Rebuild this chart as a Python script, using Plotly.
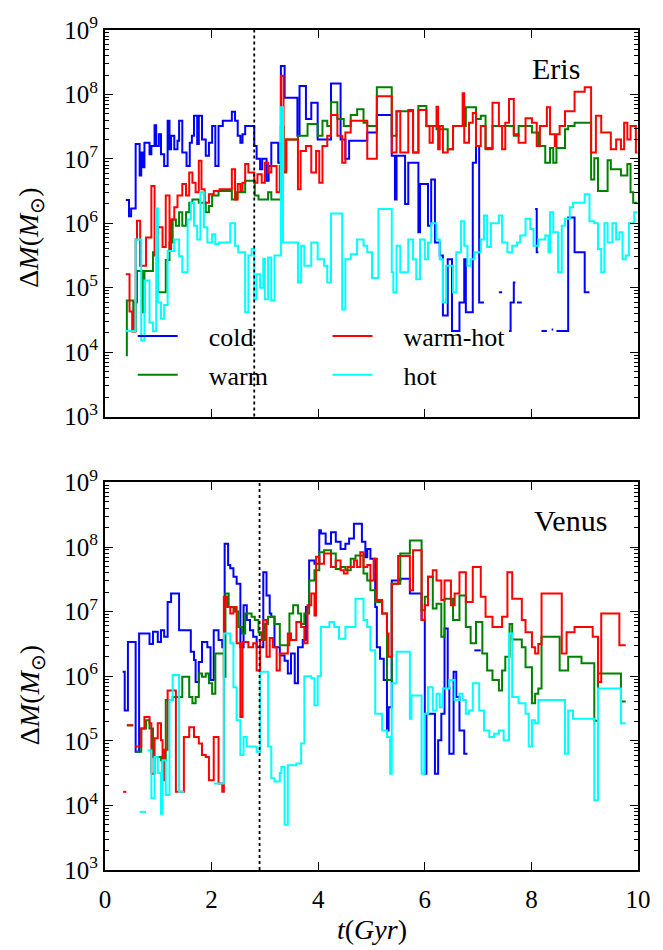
import plotly.graph_objects as go

# ---- Eris: interval edges (Gyr) and log10 of accreted mass per interval ----
eris_cold_t = [0.39, 0.45, 0.49, 0.575, 0.65, 0.68, 0.71, 0.74, 0.835, 0.87,
               0.93, 0.96, 1.01, 1.05, 1.11, 1.175, 1.21, 1.24, 1.30, 1.36,
               1.39, 1.45, 1.53, 1.59, 1.63, 1.67, 1.73, 1.76, 1.82, 1.89,
               1.95, 2.01, 2.07, 2.13, 2.21, 2.38, 2.44, 2.49, 2.54, 2.58,
               2.63, 2.80, 2.845, 2.91, 2.95, 3.03, 3.07, 3.12, 3.25, 3.30,
               3.37, 3.61, 3.65, 3.77, 3.87, 3.99, 4.24, 4.42, 4.51, 4.58,
               4.92, 5.10, 5.38, 5.44, 5.47, 5.63, 5.69, 5.88, 5.91, 6.06,
               6.12, 6.19, 6.28, 6.34, 6.43, 6.51, 6.65, 6.74, 6.77, 6.90,
               6.96, 7.02, 7.11, 7.39, 7.45, 7.58, 7.61, 7.67, 7.70, 7.73,
               7.82, 8.07, 8.10, 8.13, 8.19, 8.29, 8.38, 8.41, 8.47, 8.69,
               8.81, 9.00, 9.09]
eris_cold_lgm = [6.36, 6.11, 6.23, 7.23, 6.74, 7.10, 6.87, 7.25, 7.07, 7.20,
                 7.52, 7.20, 7.38, 7.07, 6.89, 7.59, 7.15, 7.36, 7.15, 7.28,
                 7.59, 7.10, 6.89, 7.25, 7.36, 7.67, 7.23, 7.67, 7.30, 7.05,
                 7.25, 7.51, 6.89, 7.51, 7.59, 7.73, 7.59, 7.36, 7.25, 7.38,
                 7.51, 7.20, 7.00, 6.84, 7.00, 6.66, 6.89, 7.25, 6.94, 8.44,
                 7.95, 7.36, 8.13, 7.62, 7.87, 7.30, 8.17, 7.30, 7.00, 7.28,
                 7.41, 7.68, 7.05, 6.37, 7.05, 6.30, 6.94, 5.86, 6.61, 5.96,
                 6.68, 5.70, 5.50, 4.57, 5.44, 4.33, 4.77, 5.44, 4.62, 6.94,
                 7.20, 4.77, None, 4.93, None, 4.33, 4.77, 5.08, None, 4.77,
                 None, 6.22, 5.55, None, 4.33, None, 4.35, None, 4.33, 6.09,
                 5.55, 4.93]

eris_warm_t = [0.39, 0.41, 0.53, 0.575, 0.60, 0.71, 0.74, 0.90, 0.99, 1.14,
               1.21, 1.27, 1.33, 1.39, 1.45, 1.52, 1.58, 1.64, 1.76, 1.89,
               1.95, 2.01, 2.13, 2.38, 2.47, 2.63, 2.81, 2.88, 3.06, 3.12,
               3.30, 3.35, 3.40, 3.62, 3.80, 3.99, 4.08, 4.17, 4.24, 4.36,
               4.48, 4.61, 4.73, 4.85, 4.92, 5.10, 5.38, 5.47, 5.78, 5.88,
               6.03, 6.22, 6.43, 6.53, 6.77, 6.96, 7.05, 7.14, 7.27, 7.67,
               7.76, 8.01, 8.13, 8.26, 8.35, 8.41, 8.47, 8.63, 8.69, 8.81,
               9.12, 9.18, 9.25, 9.43, 9.49, 9.68, 9.80, 9.86, 9.91, 9.99]
eris_warm_lgm = [3.95, 4.80, 4.33, 4.77, 5.26, 4.62, 5.26, 5.55, 4.93, 5.43,
                 5.70, 6.06, 5.96, 6.17, 5.96, 6.17, 6.32, 6.37, 6.32, 6.17,
                 6.27, 6.43, 6.50, 6.37, 6.48, 6.66, 6.43, 6.37, 6.48, 6.37,
                 7.50, 6.79, 7.30, 7.36, 7.54, 7.36, 7.59, 7.51, 7.88, 7.62,
                 7.51, 7.68, 7.77, 7.56, 7.51, 8.11, 7.36, 7.74, 7.10, 7.82,
                 7.51, 7.46, 7.15, 7.51, 7.80, 7.62, 7.67, 7.15, 7.51, 7.36,
                 7.51, 7.41, 7.20, 6.94, 7.17, 6.94, 7.17, 7.46, 7.51, 7.56,
                 6.68, 7.01, 6.50, 6.98, 6.84, 6.74, 6.92, 6.48, 6.32]

eris_warmhot_t = [0.39, 0.46, 0.51, 0.575, 0.60, 0.66, 0.77, 0.87, 0.93, 0.99,
                  1.08, 1.14, 1.21, 1.24, 1.30, 1.36, 1.45, 1.52, 1.58, 1.64,
                  1.70, 1.76, 1.81, 1.87, 1.95, 2.04, 2.15, 2.38, 2.44, 2.49,
                  2.54, 2.58, 2.63, 2.69, 2.80, 2.86, 2.94, 3.00, 3.06, 3.12,
                  3.22, 3.28, 3.30, 3.35, 3.40, 3.62, 3.67, 3.77, 3.87, 3.96,
                  4.02, 4.08, 4.17, 4.24, 4.36, 4.45, 4.51, 4.61, 4.92, 5.10,
                  5.38, 5.47, 5.54, 5.69, 5.78, 5.88, 6.03, 6.09, 6.15, 6.22,
                  6.25, 6.28, 6.34, 6.43, 6.53, 6.71, 6.74, 6.83, 6.90, 6.96,
                  7.05, 7.14, 7.27, 7.39, 7.45, 7.51, 7.58, 7.67, 7.76, 7.89,
                  8.01, 8.10, 8.16, 8.29, 8.35, 8.44, 8.47, 8.53, 8.63, 8.81,
                  9.00, 9.12, 9.21, 9.31, 9.49, 9.59, 9.68, 9.74, 9.80, 9.86,
                  9.96, 9.99]
eris_warmhot_lgm = [5.21, 4.63, 4.32, 5.75, 6.04, 5.34, 5.78, 6.58, 5.50, 5.94,
                    5.63, 6.43, 5.60, 6.06, 6.25, 6.43, 6.61, 6.43, 6.79, 6.63,
                    6.48, 6.97, 6.53, 6.32, 6.45, 6.50, 6.53, 6.84, 6.37, 6.61,
                    6.50, 6.63, 6.92, 6.79, 6.63, 6.76, 6.63, 6.94, 6.79, 6.89,
                    6.48, 6.89, 8.29, 6.80, 7.30, 6.53, 7.12, 7.20, 6.79, 7.12,
                    6.63, 7.20, 7.36, 7.68, 7.36, 6.94, 7.41, 7.59, 7.00, 7.97,
                    7.10, 7.74, 7.10, 7.76, 7.10, 7.76, 7.51, 7.25, 7.51, 7.81,
                    7.15, 7.51, 7.10, 7.15, 7.51, 8.02, 7.25, 7.56, 7.71, 7.20,
                    7.51, 7.17, 7.87, 7.51, 7.15, 7.56, 7.93, 7.38, 7.25, 7.63,
                    7.56, 7.20, 7.51, 7.80, 7.38, 7.20, 7.38, 7.51, 7.74, 8.04,
                    8.11, 7.10, 7.67, 7.41, 7.15, 7.30, 7.15, 7.56, 7.30, 7.51,
                    7.10]

eris_hot_t = [0.39, 0.575, 0.68, 0.74, 0.835, 0.90, 0.96, 0.99, 1.05, 1.11,
              1.175, 1.30, 1.39, 1.45, 1.55, 1.61, 1.67, 1.73, 1.79, 1.855,
              1.92, 2.01, 2.07, 2.13, 2.35, 2.44, 2.50, 2.63, 2.69, 2.75,
              2.80, 2.845, 2.91, 2.97, 3.00, 3.06, 3.12, 3.18, 3.30, 3.34,
              3.62, 3.68, 3.74, 3.87, 3.99, 4.11, 4.17, 4.24, 4.45, 4.51,
              4.61, 4.73, 4.85, 4.92, 5.01, 5.13, 5.38, 5.41, 5.47, 5.54,
              5.69, 5.78, 5.84, 5.91, 6.00, 6.06, 6.12, 6.22, 6.28, 6.34,
              6.40, 6.53, 6.59, 6.68, 6.74, 6.80, 6.86, 6.93, 7.05, 7.11,
              7.17, 7.24, 7.39, 7.45, 7.55, 7.64, 7.73, 7.79, 7.89, 7.98,
              8.04, 8.13, 8.26, 8.32, 8.35, 8.41, 8.50, 8.57, 8.63, 8.72,
              8.78, 9.00, 9.09, 9.18, 9.25, 9.31, 9.37, 9.43, 9.52, 9.59,
              9.65, 9.71, 9.77, 9.83, 9.93, 9.99]
eris_hot_lgm = [4.33, 5.75, 4.18, 5.11, 4.46, 4.33, 6.23, 4.77, 4.52, 4.73,
                5.57, 5.75, 5.49, 5.24, 6.06, 6.32, 5.96, 5.75, 6.48, 5.94,
                5.70, 5.83, 5.68, 5.70, 6.00, 5.65, 5.55, 4.62, 5.50, 5.60,
                4.82, 5.21, 5.00, 5.45, 4.82, 5.47, 4.80, 5.50, 7.80, 5.70,
                5.08, 5.65, 5.34, 5.70, 5.44, 5.34, 5.08, 6.15, 4.66, 5.44,
                5.52, 5.75, 5.65, 5.55, 5.15, 6.22, 5.24, 4.93, 5.65, 5.24,
                5.75, 5.44, 5.13, 5.75, 5.44, 5.70, 6.00, 5.75, 5.44, 4.77,
                5.34, 4.93, 5.55, 6.03, 5.65, 5.34, 5.44, 5.55, 5.75, 6.12,
                5.63, 6.00, 6.12, 5.70, 5.55, 5.65, 5.70, 5.81, 6.07, 5.91,
                5.65, 5.75, 5.81, 5.55, 6.17, 5.86, 5.24, 5.96, 6.07, 6.25,
                6.32, 6.45, 6.03, 6.00, 5.60, 5.24, 6.00, 5.70, 6.00, 5.75,
                5.86, 5.44, 5.50, 6.00, 6.17]

# ---- Venus ----
venus_cold_t = [0.33, 0.37, 0.43, 0.575, 0.64, 0.835, 0.90, 0.99, 1.05, 1.11,
                1.175, 1.24, 1.39, 1.61, 1.67, 1.70, 1.76, 1.82, 1.92, 1.98,
                2.04, 2.13, 2.20, 2.245, 2.31, 2.35, 2.41, 2.47, 2.54, 2.60,
                2.66, 2.72, 2.78, 2.845, 2.97, 3.03, 3.09, 3.12, 3.18, 3.28,
                3.37, 3.43, 3.49, 3.56, 3.62, 3.71, 3.77, 3.83, 3.93, 4.02,
                4.05, 4.14, 4.24, 4.33, 4.42, 4.51, 4.58, 4.67, 4.82, 4.885,
                4.92, 4.98, 5.07, 5.10, 5.16, 5.23, 5.29, 5.32, 5.38, 5.54,
                5.72, 5.94, 6.00, 6.03, 6.19, 6.25, 6.31, 6.37, 6.43, 6.46,
                6.54, 6.59, 6.65, 6.74, 6.80, 6.93, 7.05]
venus_cold_lgm = [6.07, 5.47, 6.53, 4.83, 6.66, 6.50, 6.69, 6.53, 6.71, 6.61,
                  7.15, 7.28, 6.71, 6.38, 6.25, 5.91, 6.22, 6.53, 6.45, 5.94,
                  6.71, 6.56, 6.45, 8.05, 7.72, 7.67, 7.54, 7.43, 6.45, 7.10,
                  6.87, 6.71, 6.61, 6.45, 7.61, 7.25, 6.97, 6.92, 6.45, 6.32,
                  6.24, 6.04, 6.35, 5.89, 6.45, 6.56, 7.07, 7.79, 7.74, 8.26,
                  8.21, 8.05, 8.23, 8.08, 7.97, 8.05, 8.13, 8.36, 8.08, 7.84,
                  7.97, 7.82, 7.07, 6.45, 6.27, 5.94, 5.16, 5.52, 7.48, 7.51,
                  7.28, 6.87, 4.49, 5.42, 4.49, 5.01, 5.42, 6.74, 5.83, 4.80,
                  6.07, 5.68, 5.16, 4.80, None, 6.40]

venus_warm_t = [0.41, 0.53, 0.575, 0.68, 0.77, 0.835, 0.90, 1.05, 1.14, 1.27,
                1.45, 1.58, 1.64, 1.70, 1.76, 1.82, 1.89, 1.95, 2.01, 2.07,
                2.23, 2.26, 2.32, 2.44, 2.50, 2.57, 2.63, 2.75, 2.81, 2.88,
                2.94, 3.00, 3.06, 3.18, 3.28, 3.46, 3.53, 3.62, 3.68, 3.74,
                3.83, 3.93, 4.02, 4.11, 4.24, 4.33, 4.42, 4.51, 4.61, 4.70,
                4.85, 4.92, 4.98, 5.07, 5.20, 5.29, 5.38, 5.54, 5.72, 5.94,
                6.00, 6.06, 6.15, 6.22, 6.31, 6.37, 6.53, 6.65, 6.77, 6.86,
                6.96, 7.08, 7.17, 7.27, 7.39, 7.45, 7.51, 7.59, 7.64, 7.82,
                7.89, 8.01, 8.07, 8.13, 8.19, 8.53, 8.69, 8.94, 9.18, 9.25,
                9.68, 9.77]
venus_warm_lgm = [5.24, None, 4.83, 5.19, 5.32, 5.19, 4.75, 4.70, 5.63, 5.68,
                  5.99, 5.68, 5.58, 5.68, 6.04, 5.99, 6.04, 5.89, 5.73, 6.35,
                  5.99, 7.28, 7.07, 7.00, 6.76, 6.66, 6.97, 6.92, 6.87, 6.68,
                  6.56, 6.81, 6.92, 6.81, 6.48, 6.97, 7.10, 6.97, 6.81, 6.97,
                  7.48, 7.64, 7.92, 7.95, 7.90, 7.66, 7.69, 7.64, 7.82, 7.87,
                  7.59, 7.48, 7.33, 7.15, 6.97, 5.94, 7.43, 7.90, 8.10, 7.02,
                  7.23, 7.54, 7.05, 7.12, 6.61, 7.20, 6.87, 7.25, 6.76, 6.51,
                  6.84, 6.35, 6.09, 5.94, 5.78, 6.09, 6.30, 6.81, 6.57, 6.45,
                  6.14, 5.58, 5.73, 5.81, 6.61, 6.09, 6.30, 6.20, 5.31, 6.04,
                  5.61]

venus_warmhot_t = [0.34, 0.40, 0.41, 0.53, 0.56, 0.68, 0.74, 0.835, 0.87, 0.93,
                   0.99, 1.05, 1.08, 1.11, 1.175, 1.33, 1.48, 1.58, 1.67, 1.76,
                   1.82, 1.89, 1.95, 2.04, 2.13, 2.20, 2.23, 2.29, 2.35, 2.41,
                   2.47, 2.54, 2.58, 2.69, 2.78, 2.845, 2.91, 2.97, 3.03, 3.09,
                   3.15, 3.22, 3.28, 3.43, 3.49, 3.59, 3.68, 3.74, 3.80, 3.87,
                   3.93, 3.96, 4.02, 4.11, 4.24, 4.33, 4.42, 4.48, 4.55, 4.67,
                   4.73, 4.79, 4.85, 4.92, 4.98, 5.04, 5.10, 5.20, 5.29, 5.32,
                   5.38, 5.50, 5.72, 5.78, 5.94, 6.00, 6.06, 6.15, 6.22, 6.31,
                   6.37, 6.49, 6.56, 6.65, 6.77, 6.90, 7.05, 7.14, 7.27, 7.45,
                   7.55, 7.64, 7.82, 7.89, 8.01, 8.07, 8.13, 8.19, 8.57, 8.66,
                   8.81, 9.15, 9.25, 9.31, 9.65, 9.77]
venus_warmhot_lgm = [4.21, None, 5.24, None, 4.91, 5.19, 5.37, 5.27, 4.49, 5.04,
                     5.27, 5.01, 4.39, 4.86, 5.78, 4.21, 5.06, 5.21, 5.06, 4.96,
                     4.78, 4.75, 4.39, 5.06, 4.34, 4.21, 7.23, 7.07, 6.97, 7.07,
                     6.51, 5.37, 6.53, 6.45, 6.51, 6.09, 6.56, 6.87, 6.30, 6.59,
                     6.45, 6.09, 6.35, 6.66, 6.56, 6.84, 6.76, 6.51, 7.10, 7.28,
                     6.94, 7.85, 7.74, 7.90, 7.69, 7.79, 7.64, 7.59, 7.69, 7.79,
                     7.69, 7.92, 7.69, 7.72, 7.48, 7.82, 7.18, 6.97, 6.66, 6.30,
                     7.43, 7.86, 7.33, 7.95, 6.87, 7.10, 7.54, 7.64, 7.48, 7.18,
                     7.48, 7.10, 7.28, 7.61, 7.15, 7.69, 7.23, 6.92, 6.76, 6.92,
                     7.61, 7.20, 6.87, 6.68, 6.45, 6.35, 6.50, 7.28, 6.35, 6.68,
                     6.76, 6.61, 5.91, 6.97, 6.48]

venus_hot_t = [0.65, 0.77, 0.80, 0.87, 0.93, 0.99, 1.05, 1.08, 1.14, 1.21,
               1.27, 1.39, 1.48, 2.04, 2.23, 2.35, 2.41, 2.47, 2.54, 2.60,
               2.66, 2.845, 2.91, 3.06, 3.12, 3.18, 3.28, 3.31, 3.37, 3.43,
               3.59, 3.68, 3.74, 3.87, 3.93, 3.99, 4.05, 4.21, 4.30, 4.39,
               4.51, 4.70, 4.85, 4.92, 4.98, 5.07, 5.20, 5.29, 5.35, 5.38,
               5.47, 5.72, 5.75, 5.94, 6.00, 6.06, 6.15, 6.22, 6.28, 6.34,
               6.46, 6.56, 6.65, 6.71, 6.77, 6.83, 6.90, 7.02, 7.11, 7.21,
               7.30, 7.39, 7.48, 7.58, 7.64, 7.76, 7.89, 7.95, 8.01, 8.07,
               8.13, 8.63, 8.69, 8.78, 9.18, 9.25, 9.68, 9.77]
venus_hot_lgm = [3.90, None, 4.85, 4.11, 4.75, 4.50, 3.87, 4.70, 4.16, 5.63,
                 6.02, 4.21, None, 4.34, 6.66, 6.51, 5.83, 5.32, 4.78, 5.06,
                 4.91, 4.83, 6.07, 4.91, 4.42, 4.37, 4.50, 4.60, 3.70, 4.62,
                 4.65, 4.96, 6.00, 5.97, 5.55, 6.00, 6.76, 6.84, 6.76, 6.58,
                 6.76, 7.20, 6.87, 6.76, 6.40, 5.42, 5.16, 5.06, 4.49, 5.89,
                 6.38, 5.34, 5.70, 4.49, 5.42, 5.83, 5.47, 5.73, 5.52, 5.81,
                 5.94, 5.63, 5.73, 5.63, 5.42, 5.47, 5.89, 5.47, 5.16, 5.06,
                 5.11, 5.16, 5.01, 6.66, 5.68, 5.58, 5.42, 4.91, 5.32, 5.27,
                 5.63, 4.80, 5.47, 5.34, 4.08, 5.81, 5.27]

phase_names = ["cold", "warm", "warm-hot", "hot"]
phase_colors = ["#0000ff", "#008000", "#ff0000", "#00ffff"]
decades = [3, 4, 5, 6, 7, 8, 9]
eris_tmark = 2.8
venus_tmark = 2.9

FONT = "Liberation Serif, Times New Roman, serif"
LEGEND_PAD = "\u00a0" * 4   # widens the gap between legend line and label


def step_xy(edges, lgm):
    """Histogram-style step outline; None intervals leave a gap."""
    xs, ys = [], []
    for i, v in enumerate(lgm):
        if v is None:
            xs.append(None)
            ys.append(None)
            continue
        xs += [edges[i], edges[i + 1]]
        ys += [10 ** v, 10 ** v]
    return xs, ys


panels = [
    ("x", "y", [(eris_cold_t, eris_cold_lgm), (eris_warm_t, eris_warm_lgm),
                (eris_warmhot_t, eris_warmhot_lgm), (eris_hot_t, eris_hot_lgm)]),
    ("x2", "y2", [(venus_cold_t, venus_cold_lgm), (venus_warm_t, venus_warm_lgm),
                  (venus_warmhot_t, venus_warmhot_lgm), (venus_hot_t, venus_hot_lgm)]),
]

fig = go.Figure()
for p, (xa, ya, series) in enumerate(panels):
    for k, (edges, lgm) in enumerate(series):
        xs, ys = step_xy(edges, lgm)
        fig.add_trace(go.Scatter(
            x=xs, y=ys, xaxis=xa, yaxis=ya, mode="lines",
            name=LEGEND_PAD + phase_names[k], legendgroup=phase_names[k],
            legend="legend" if k < 2 else "legend2",
            showlegend=(p == 0),
            line=dict(color=phase_colors[k], width=2),
            connectgaps=False, hoverinfo="skip",
        ))

tick_vals = [10.0 ** d for d in decades]
tick_text = ["10<sup>%d</sup>" % d for d in decades]

yax = dict(type="log", range=[3, 9], tickvals=tick_vals, ticktext=tick_text,
           ticks="inside", ticklen=8, tickwidth=1.3, tickcolor="black",
           minor=dict(ticks="inside", ticklen=4, tickwidth=1, tickcolor="black",
                      dtick="D1", showgrid=False),
           showline=True, linewidth=2, linecolor="black", mirror="allticks",
           showgrid=False, zeroline=False,
           tickfont=dict(family=FONT, size=25, color="black"))
xax = dict(range=[0, 10], tickvals=[0, 2, 4, 6, 8, 10],
           ticks="inside", ticklen=8, tickwidth=1.3, tickcolor="black",
           showline=True, linewidth=2, linecolor="black", mirror="allticks",
           showgrid=False, zeroline=False,
           tickfont=dict(family=FONT, size=25, color="black"))

top_dom = [0.5398, 1.0]
bot_dom = [0.0, 0.4614]

legend_style = dict(xanchor="left", yanchor="top", bgcolor="rgba(0,0,0,0)",
                    tracegroupgap=2, itemwidth=40,
                    font=dict(family=FONT, size=26, color="black"))

fig.update_layout(
    width=663, height=950,
    margin=dict(l=105, r=19, t=29, b=80),
    paper_bgcolor="white", plot_bgcolor="white",
    font=dict(family=FONT, color="black"),
    xaxis=dict(xax, domain=[0, 1], anchor="y", showticklabels=False),
    yaxis=dict(yax, domain=top_dom, anchor="x"),
    xaxis2=dict(xax, domain=[0, 1], anchor="y2", ticklabelstandoff=6),
    yaxis2=dict(yax, domain=bot_dom, anchor="x2"),
    legend=dict(legend_style, x=0.052, y=0.6635),
    legend2=dict(legend_style, x=0.4174, y=0.6635),
    showlegend=True,
)

# dotted reference epochs
fig.add_shape(type="line", xref="x", yref="y domain", x0=eris_tmark, x1=eris_tmark,
              y0=0, y1=1, line=dict(color="black", width=1.8, dash="dot"))
fig.add_shape(type="line", xref="x2", yref="y2 domain", x0=venus_tmark, x1=venus_tmark,
              y0=0, y1=1, line=dict(color="black", width=1.8, dash="dot"))

ytitle = "Δ<i>M</i>(<i>M</i><sub>⊙</sub>)"
annos = [
    dict(text="Eris", x=0.798, y=0.954, xref="paper", yref="paper",
         xanchor="left", yanchor="middle", showarrow=False,
         font=dict(family=FONT, size=30, color="black")),
    dict(text="Venus", x=0.801, y=0.416, xref="paper", yref="paper",
         xanchor="left", yanchor="middle", showarrow=False,
         font=dict(family=FONT, size=30, color="black")),
    dict(text=ytitle, x=-0.139, y=0.7527, xref="paper", yref="paper",
         xanchor="center", yanchor="middle", textangle=-90, showarrow=False,
         font=dict(family=FONT, size=28, color="black")),
    dict(text=ytitle, x=-0.139, y=0.208, xref="paper", yref="paper",
         xanchor="center", yanchor="middle", textangle=-90, showarrow=False,
         font=dict(family=FONT, size=28, color="black")),
    dict(text="<i>t</i>(<i>Gyr</i>)", x=0.5, y=-0.0713, xref="paper", yref="paper",
         xanchor="center", yanchor="middle", showarrow=False,
         font=dict(family=FONT, size=28, color="black")),
]
fig.update_layout(annotations=annos)

fig.write_html("out.html")
